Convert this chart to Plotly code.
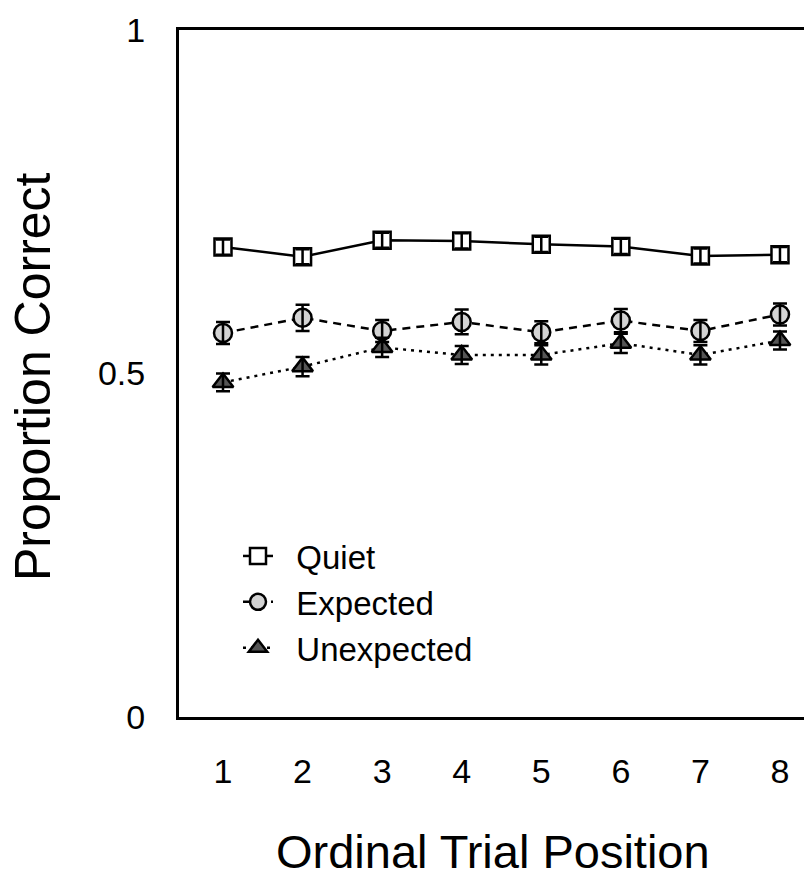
import plotly.graph_objects as go

positions = [1, 2, 3, 4, 5, 6, 7, 8]
quiet = [0.684, 0.670, 0.694, 0.693, 0.688, 0.685, 0.671, 0.673]
quiet_err = [0.011, 0.011, 0.011, 0.011, 0.011, 0.011, 0.011, 0.011]
expected = [0.559, 0.581, 0.562, 0.575, 0.560, 0.577, 0.562, 0.586]
expected_err = [0.016, 0.019, 0.016, 0.018, 0.016, 0.017, 0.016, 0.016]
unexpected = [0.487, 0.510, 0.538, 0.527, 0.527, 0.544, 0.527, 0.548]
unexpected_err = [0.013, 0.014, 0.014, 0.013, 0.014, 0.014, 0.014, 0.013]
y_tickvals = [0, 0.5, 1]
y_ticktext = ["0", "0.5", "1"]
x_ticktext = ["1", "2", "3", "4", "5", "6", "7", "8"]

FONT = "Liberation Sans, Arial, Helvetica, sans-serif"
NB = "\u00a0\u00a0"

series = [
    dict(name="Quiet", y=quiet, err=quiet_err, symbol="square", fill="white",
         dash="solid", size=17),
    dict(name="Expected", y=expected, err=expected_err, symbol="circle", fill="#d3d3d3",
         dash="8px,6px", size=18),
    dict(name="Unexpected", y=unexpected, err=unexpected_err, symbol="triangle-up",
         fill="#555555", dash="3px,5px", size=18),
]

fig = go.Figure()
for s in series:
    fig.add_trace(go.Scatter(
        x=positions, y=s["y"], name=NB + s["name"], mode="lines+markers",
        line=dict(color="black", width=2.5, dash=s["dash"]),
        marker=dict(symbol=s["symbol"], size=s["size"], color=s["fill"],
                    line=dict(color="black", width=2.5)),
        cliponaxis=False,
    ))
# error bars drawn on top of markers
for s in series:
    fig.add_trace(go.Scatter(
        x=positions, y=s["y"], mode="markers", showlegend=False,
        marker=dict(size=1, opacity=0),
        error_y=dict(type="data", array=s["err"], color="black", thickness=2.5, width=7),
        cliponaxis=False,
    ))

L, T, B = 171, 22, 165
PW = 812 - L
PH = 874 - T - B
BOTTOM = T + PH

fig.update_layout(
    width=812, height=874,
    margin=dict(l=L, r=0, t=T, b=B, autoexpand=False),
    paper_bgcolor="white", plot_bgcolor="white",
    font=dict(family=FONT, color="black", size=33),
    showlegend=True,
    legend=dict(
        x=(230 - L) / PW, xanchor="left",
        y=(BOTTOM - 520) / PH, yanchor="top",
        bgcolor="rgba(0,0,0,0)", borderwidth=0,
        font=dict(family=FONT, size=33, color="black"),
        tracegroupgap=0,
    ),
    xaxis=dict(
        range=[0.447, 8.503], tickmode="array", tickvals=positions, ticktext=x_ticktext,
        showgrid=False, zeroline=False, showline=True, linecolor="black", linewidth=3,
        mirror=True, ticks="", ticklabelstandoff=22,
        tickfont=dict(family=FONT, size=34, color="black"),
    ),
    yaxis=dict(
        range=[0, 1], tickmode="array", tickvals=y_tickvals, ticktext=y_ticktext,
        showgrid=False, zeroline=False, showline=True, linecolor="black", linewidth=3,
        mirror=False, ticks="", ticklabelstandoff=24,
        tickfont=dict(family=FONT, size=34, color="black"),
    ),
    annotations=[
        dict(text="Ordinal Trial Position", xref="paper", yref="paper",
             x=(485 - L) / PW, y=-(844 - BOTTOM) / PH, xanchor="center", yanchor="middle",
             showarrow=False, font=dict(family=FONT, size=47, color="black")),
        dict(text="Proportion Correct", xref="paper", yref="paper",
             x=(25 - L) / PW, y=(BOTTOM - 369) / PH, xanchor="center", yanchor="middle",
             textangle=-90, showarrow=False, font=dict(family=FONT, size=50, color="black")),
    ],
)

fig.write_html("out.html")
